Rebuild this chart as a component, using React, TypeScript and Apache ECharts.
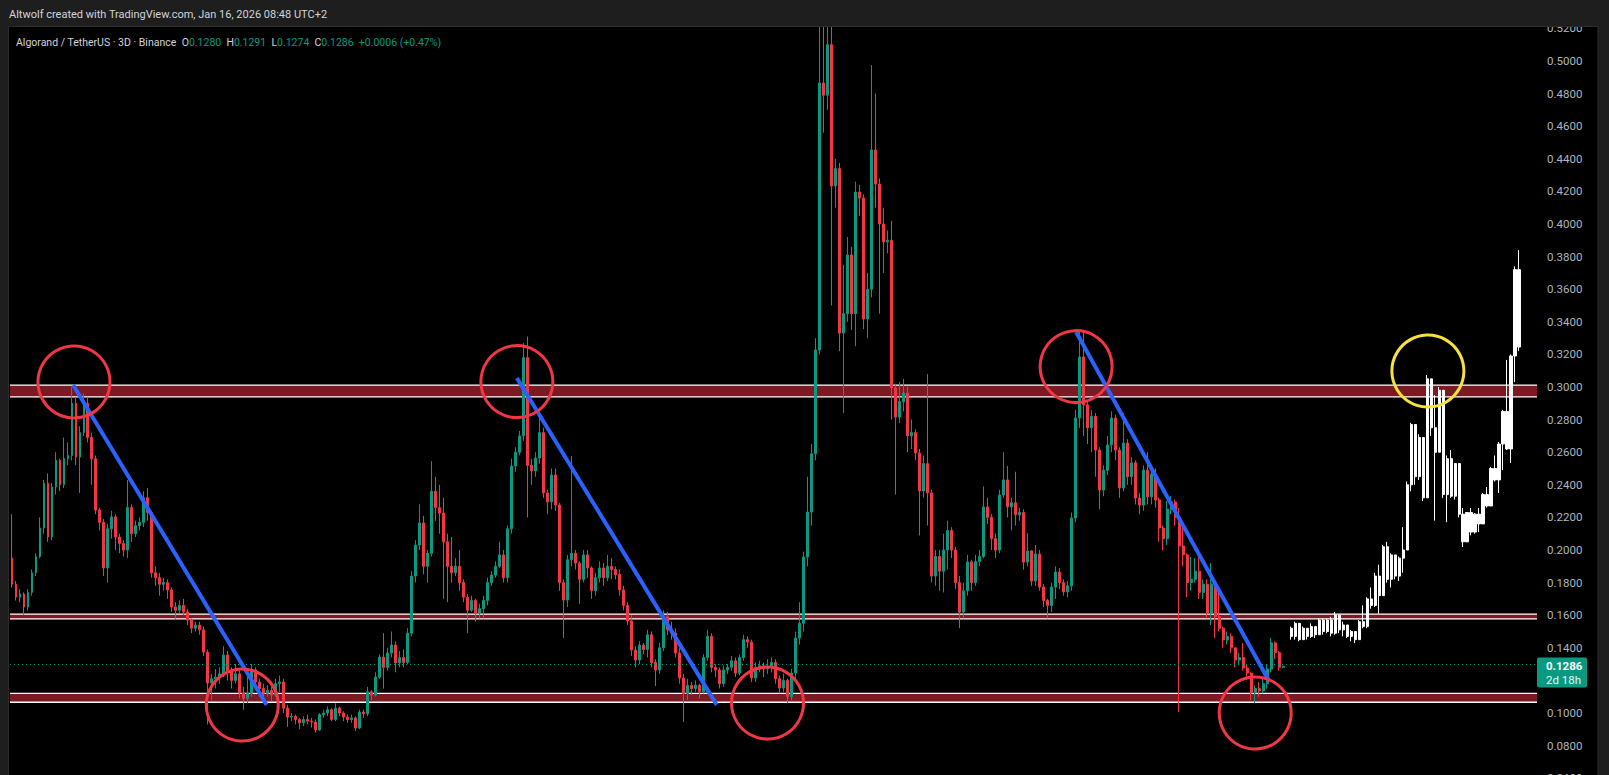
import React, { useEffect, useRef } from "react";
import * as echarts from "echarts";

// ---------- price scale (right axis) ----------
const PRICE_MIN = 0.06;
const PRICE_MAX = 0.52;
const PRICE_STEP = 0.02;

// ---------- time slots (3D candles) ----------
const SLOT_COUNT = 382;
const PROJ_START = 320;

// ---------- real ALGO/USDT 3D candles (open = previous close) ----------
const FIRST_OPEN = 0.195;
const realClose = [
  0.179, 0.171, 0.173, 0.165, 0.174, 0.186, 0.196, 0.2135, 0.241, 0.208,
  0.2387, 0.255, 0.24, 0.256, 0.258, 0.29, 0.257, 0.272, 0.29, 0.269,
  0.256, 0.2245, 0.217, 0.189, 0.213, 0.2203, 0.208, 0.204, 0.2, 0.226,
  0.21, 0.215, 0.217, 0.232, 0.223, 0.186, 0.183, 0.179, 0.18, 0.1755,
  0.165, 0.163, 0.166, 0.162, 0.157, 0.152, 0.154, 0.151, 0.1374, 0.1184,
  0.121, 0.122, 0.124, 0.1356, 0.126, 0.12, 0.124, 0.1123, 0.109, 0.112,
  0.1264, 0.119, 0.115, 0.112, 0.114, 0.111, 0.118, 0.119, 0.103, 0.0975,
  0.098, 0.096, 0.094, 0.096, 0.095, 0.0945, 0.0896, 0.099, 0.1, 0.102,
  0.096, 0.103, 0.1, 0.0975, 0.096, 0.097, 0.0908, 0.1006, 0.0995, 0.113,
  0.111, 0.122, 0.1343, 0.128, 0.1368, 0.1417, 0.1307, 0.134, 0.131, 0.149,
  0.184, 0.203, 0.2166, 0.19, 0.198, 0.236, 0.226, 0.2227, 0.205, 0.19,
  0.186, 0.19, 0.18, 0.171, 0.163, 0.169, 0.1613, 0.164, 0.169, 0.18,
  0.1846, 0.19, 0.197, 0.183, 0.213, 0.2515, 0.26, 0.27, 0.318, 0.252,
  0.2485, 0.2564, 0.272, 0.235, 0.2295, 0.246, 0.2276, 0.18, 0.1693, 0.194,
  0.198, 0.192, 0.182, 0.197, 0.189, 0.175, 0.183, 0.189, 0.183, 0.19,
  0.188, 0.185, 0.1755, 0.166, 0.1565, 0.1387, 0.1325, 0.1417, 0.139, 0.148,
  0.131, 0.1264, 0.14, 0.159, 0.151, 0.149, 0.1368, 0.1215, 0.112, 0.117,
  0.115, 0.117, 0.113, 0.134, 0.147, 0.128, 0.1264, 0.118, 0.1264, 0.128,
  0.132, 0.1245, 0.134, 0.145, 0.1435, 0.1215, 0.128, 0.129, 0.127, 0.128,
  0.131, 0.121, 0.1153, 0.12, 0.11, 0.1245, 0.146, 0.155, 0.1957, 0.2233,
  0.259, 0.3227, 0.4865, 0.479, 0.51, 0.4233, 0.434, 0.3331, 0.345, 0.381,
  0.345, 0.4196, 0.416, 0.3417, 0.36, 0.4454, 0.4245, 0.4, 0.389, 0.39,
  0.2994, 0.2816, 0.291, 0.2963, 0.27, 0.272, 0.2595, 0.2362, 0.253, 0.235,
  0.184, 0.196, 0.187, 0.2, 0.212, 0.2, 0.18, 0.162, 0.175, 0.1927,
  0.18, 0.193, 0.196, 0.2264, 0.22, 0.207, 0.2, 0.2337, 0.243, 0.2264,
  0.229, 0.2215, 0.223, 0.1926, 0.1994, 0.181, 0.1975, 0.1773, 0.169, 0.166,
  0.1773, 0.1865, 0.18, 0.1743, 0.178, 0.2196, 0.281, 0.3184, 0.289, 0.275,
  0.282, 0.2613, 0.2368, 0.249, 0.2644, 0.281, 0.2613, 0.238, 0.2656, 0.245,
  0.2535, 0.2319, 0.2276, 0.249, 0.2326, 0.2465, 0.2307, 0.2135, 0.207, 0.225,
  0.2295, 0.22, 0.2025, 0.197, 0.18, 0.182, 0.187, 0.174, 0.179, 0.1613,
  0.179, 0.159, 0.152, 0.1448, 0.147, 0.14, 0.1325, 0.134, 0.1276, 0.1245,
  0.1123, 0.115, 0.1135, 0.118, 0.127, 0.143, 0.137, 0.128, 0.1286,
];
const realHigh = [
  0.222, 0.181, 0.176, 0.174, 0.176, 0.188, 0.198, 0.22, 0.243, 0.247,
  0.241, 0.26, 0.256, 0.269, 0.266, 0.3, 0.294, 0.276, 0.296, 0.294,
  0.272, 0.258, 0.226, 0.219, 0.216, 0.224, 0.222, 0.21, 0.206, 0.243,
  0.228, 0.218, 0.22, 0.236, 0.238, 0.224, 0.19, 0.186, 0.183, 0.182,
  0.177, 0.168, 0.169, 0.17, 0.164, 0.158, 0.156, 0.156, 0.153, 0.139,
  0.124, 0.127, 0.128, 0.141, 0.138, 0.128, 0.13, 0.126, 0.116, 0.125,
  0.13, 0.128, 0.121, 0.118, 0.117, 0.116, 0.121, 0.123, 0.121, 0.105,
  0.1, 0.099, 0.097, 0.098, 0.099, 0.097, 0.096, 0.1, 0.102, 0.104,
  0.103, 0.106, 0.104, 0.101, 0.099, 0.099, 0.098, 0.102, 0.102, 0.116,
  0.114, 0.125, 0.136, 0.149, 0.14, 0.15, 0.144, 0.138, 0.139, 0.152,
  0.187, 0.206, 0.228, 0.221, 0.2, 0.2545, 0.245, 0.24, 0.232, 0.21,
  0.208, 0.195, 0.2, 0.182, 0.173, 0.172, 0.17, 0.167, 0.172, 0.183,
  0.187, 0.193, 0.205, 0.2, 0.215, 0.256, 0.263, 0.273, 0.327, 0.331,
  0.256, 0.26, 0.285, 0.275, 0.237, 0.25, 0.25, 0.229, 0.182, 0.197,
  0.2577, 0.2, 0.193, 0.2, 0.2, 0.19, 0.186, 0.193, 0.192, 0.197,
  0.195, 0.19, 0.188, 0.178, 0.168, 0.16, 0.141, 0.144, 0.143, 0.151,
  0.15, 0.133, 0.143, 0.163, 0.162, 0.156, 0.152, 0.14, 0.124, 0.121,
  0.119, 0.12, 0.118, 0.136, 0.151, 0.149, 0.13, 0.128, 0.129, 0.13,
  0.135, 0.134, 0.136, 0.148, 0.147, 0.145, 0.131, 0.132, 0.131, 0.133,
  0.134, 0.133, 0.123, 0.124, 0.121, 0.127, 0.15, 0.168, 0.199, 0.245,
  0.265, 0.33, 0.53, 0.53, 0.53, 0.53, 0.44, 0.4374, 0.375, 0.392,
  0.386, 0.426, 0.424, 0.418, 0.37, 0.4975, 0.48, 0.428, 0.41, 0.396,
  0.402, 0.302, 0.303, 0.305, 0.3, 0.28, 0.274, 0.262, 0.258, 0.308,
  0.237, 0.2, 0.2, 0.21, 0.218, 0.214, 0.202, 0.184, 0.18, 0.197,
  0.194, 0.197, 0.2, 0.239, 0.232, 0.222, 0.21, 0.237, 0.26, 0.2515,
  0.232, 0.248, 0.226, 0.225, 0.2104, 0.2, 0.203, 0.2, 0.179, 0.17,
  0.18, 0.19, 0.189, 0.182, 0.181, 0.223, 0.286, 0.3337, 0.335, 0.292,
  0.286, 0.284, 0.263, 0.252, 0.27, 0.285, 0.283, 0.263, 0.284, 0.268,
  0.257, 0.255, 0.235, 0.252, 0.26, 0.25, 0.25, 0.232, 0.215, 0.23,
  0.233, 0.231, 0.2258, 0.2153, 0.198, 0.1957, 0.195, 0.2, 0.182, 0.182,
  0.192, 0.18, 0.175, 0.153, 0.15, 0.149, 0.14, 0.137, 0.143, 0.13,
  0.125, 0.117, 0.119, 0.122, 0.13, 0.146, 0.144, 0.138, 0.1291,
];
const realLow = [
  0.177, 0.169, 0.168, 0.16, 0.163, 0.172, 0.184, 0.195, 0.21, 0.205,
  0.206, 0.234, 0.236, 0.238, 0.252, 0.255, 0.252, 0.235, 0.27, 0.266,
  0.24, 0.222, 0.212, 0.184, 0.18, 0.207, 0.2, 0.198, 0.196, 0.195,
  0.205, 0.208, 0.212, 0.214, 0.218, 0.183, 0.178, 0.172, 0.175, 0.17,
  0.162, 0.157, 0.161, 0.16, 0.154, 0.149, 0.15, 0.148, 0.135, 0.093,
  0.108, 0.115, 0.118, 0.122, 0.12, 0.115, 0.118, 0.109, 0.102, 0.106,
  0.11, 0.114, 0.11, 0.108, 0.11, 0.107, 0.11, 0.113, 0.1, 0.0915,
  0.095, 0.093, 0.09, 0.092, 0.093, 0.091, 0.088, 0.089, 0.097, 0.098,
  0.095, 0.095, 0.098, 0.095, 0.094, 0.094, 0.089, 0.09, 0.097, 0.098,
  0.108, 0.11, 0.121, 0.115, 0.126, 0.134, 0.125, 0.128, 0.128, 0.13,
  0.147, 0.18, 0.2, 0.185, 0.18, 0.196, 0.218, 0.21, 0.17, 0.168,
  0.18, 0.184, 0.175, 0.168, 0.149, 0.162, 0.156, 0.158, 0.158, 0.166,
  0.178, 0.183, 0.189, 0.18, 0.18, 0.21, 0.248, 0.258, 0.267, 0.22,
  0.24, 0.245, 0.253, 0.232, 0.222, 0.225, 0.224, 0.175, 0.146, 0.165,
  0.19, 0.188, 0.167, 0.18, 0.183, 0.17, 0.172, 0.18, 0.178, 0.181,
  0.182, 0.182, 0.172, 0.163, 0.154, 0.135, 0.128, 0.13, 0.136, 0.134,
  0.128, 0.1165, 0.124, 0.138, 0.148, 0.145, 0.134, 0.118, 0.0945, 0.108,
  0.111, 0.113, 0.109, 0.112, 0.132, 0.125, 0.122, 0.115, 0.116, 0.124,
  0.126, 0.122, 0.123, 0.132, 0.14, 0.119, 0.119, 0.125, 0.122, 0.124,
  0.125, 0.118, 0.112, 0.113, 0.106, 0.108, 0.12, 0.142, 0.15, 0.19,
  0.215, 0.255, 0.32, 0.456, 0.47, 0.35, 0.41, 0.322, 0.284, 0.34,
  0.335, 0.325, 0.405, 0.3355, 0.33, 0.355, 0.41, 0.345, 0.37, 0.382,
  0.28, 0.234, 0.278, 0.285, 0.26, 0.262, 0.255, 0.209, 0.232, 0.215,
  0.18, 0.178, 0.175, 0.174, 0.188, 0.195, 0.176, 0.152, 0.158, 0.172,
  0.175, 0.178, 0.19, 0.195, 0.216, 0.2, 0.195, 0.198, 0.232, 0.22,
  0.212, 0.215, 0.218, 0.188, 0.19, 0.178, 0.178, 0.175, 0.165, 0.158,
  0.162, 0.17, 0.176, 0.172, 0.171, 0.175, 0.217, 0.275, 0.27, 0.265,
  0.26, 0.245, 0.225, 0.233, 0.246, 0.26, 0.255, 0.232, 0.236, 0.24,
  0.24, 0.228, 0.222, 0.224, 0.228, 0.228, 0.226, 0.205, 0.2, 0.203,
  0.222, 0.215, 0.1006, 0.19, 0.171, 0.175, 0.18, 0.17, 0.17, 0.158,
  0.154, 0.146, 0.15, 0.14, 0.142, 0.137, 0.128, 0.13, 0.126, 0.12,
  0.108, 0.106, 0.11, 0.112, 0.115, 0.125, 0.133, 0.126, 0.1274,
];

// ---------- projected (white) bar pattern ----------
const PROJ_FIRST_OPEN = 0.152;
const projClose = [
  0.147, 0.155, 0.145, 0.152, 0.147, 0.153, 0.148, 0.157, 0.15, 0.157,
  0.149, 0.16, 0.151, 0.154, 0.147, 0.15, 0.145, 0.156, 0.153, 0.17,
  0.166, 0.184, 0.172, 0.202, 0.182, 0.197, 0.184, 0.195, 0.2, 0.24,
  0.277, 0.245, 0.269, 0.232, 0.305, 0.275, 0.26, 0.298, 0.234, 0.256,
  0.233, 0.253, 0.222, 0.205, 0.223, 0.211, 0.222, 0.216, 0.234, 0.227,
  0.25, 0.243, 0.265, 0.285, 0.262, 0.319, 0.372, 0.3245,
];
const projHigh = [
  0.153, 0.156, 0.152, 0.153, 0.152, 0.155, 0.153, 0.158, 0.158, 0.158,
  0.159, 0.162, 0.16, 0.156, 0.154, 0.151, 0.15, 0.157, 0.166, 0.171,
  0.177, 0.186, 0.191, 0.203, 0.205, 0.198, 0.197, 0.196, 0.214, 0.242,
  0.278, 0.27, 0.271, 0.262, 0.3074, 0.3, 0.295, 0.3, 0.263, 0.258,
  0.2613, 0.2534, 0.2325, 0.2258, 0.2233, 0.2258, 0.2227, 0.2258, 0.235, 0.2386,
  0.251, 0.258, 0.2663, 0.286, 0.3166, 0.32, 0.374, 0.384,
];
const projLow = [
  0.145, 0.145, 0.144, 0.145, 0.145, 0.146, 0.146, 0.148, 0.148, 0.149,
  0.147, 0.148, 0.149, 0.147, 0.146, 0.144, 0.143, 0.145, 0.152, 0.152,
  0.164, 0.165, 0.161, 0.172, 0.18, 0.177, 0.182, 0.181, 0.186, 0.2,
  0.236, 0.24, 0.243, 0.23, 0.248, 0.27, 0.218, 0.26, 0.232, 0.217,
  0.232, 0.231, 0.22, 0.2018, 0.212, 0.209, 0.21, 0.211, 0.222, 0.226,
  0.237, 0.242, 0.235, 0.249, 0.2613, 0.2534, 0.303, 0.322,
];

// ---------- annotations ----------
// [slot, lower price, upper price]
const zones = [
  [0, 0.2939, 0.3012],
  [0, 0.1577, 0.1607],
  [0, 0.1066, 0.1121],
];
// [slotFrom, priceFrom, slotTo, priceTo]
const trendLines = [
  [15.3, 0.3012, 63.7, 0.105],
  [126.3, 0.3055, 176.3, 0.105],
  [266.2, 0.3337, 314.5, 0.1195],
];
// [slot, price]
const redCircles = [
  [15.5, 0.3031],
  [57.6, 0.1049],
  [126.3, 0.3033],
  [189, 0.1061],
  [266.2, 0.3125],
  [311, 0.1],
];
const yellowCircles = [[354.2, 0.3098]];

const LAST = { open: "0.1280", high: "0.1291", low: "0.1274", close: "0.1286", change: "+0.0006 (+0.47%)" };
const LAST_PRICE = 0.1286;
const COUNTDOWN = "2d 18h";
const HEADER = "Altwolf created with TradingView.com, Jan 16, 2026 08:48 UTC+2";
const SYMBOL = "Algorand / TetherUS · 3D · Binance";

const UP = "#089981";
const DOWN = "#f23645";
const FONT = "Roboto, 'Noto Sans', sans-serif";

export default function App() {
  const ref = useRef<HTMLDivElement>(null);

  useEffect(() => {
    if (!ref.current) return;
    const chart = echarts.init(ref.current, null, { renderer: "svg" });

    const cats = Array.from({ length: SLOT_COUNT }, (_, i) => String(i));
    const empty = ["-", "-", "-", "-"];

    const realCandles: any[] = [];
    let prev = FIRST_OPEN;
    realClose.forEach((c, i) => {
      realCandles.push([prev, c, realLow[i], realHigh[i]]);
      prev = c;
    });
    while (realCandles.length < SLOT_COUNT) realCandles.push(empty);

    const projCandles: any[] = [];
    while (projCandles.length < PROJ_START) projCandles.push(empty);
    prev = PROJ_FIRST_OPEN;
    projClose.forEach((c, i) => {
      projCandles.push([prev, c, projLow[i], projHigh[i]]);
      prev = c;
    });
    while (projCandles.length < SLOT_COUNT) projCandles.push(empty);

    const circleSeries = (data: number[][], color: string, name: string) => ({
      type: "custom",
      name,
      xAxisIndex: 1,
      yAxisIndex: 0,
      z: 6,
      silent: true,
      data,
      renderItem: (_p: any, api: any) => {
        const pt = api.coord([api.value(0), api.value(1)]);
        return {
          type: "circle",
          shape: { cx: pt[0], cy: pt[1], r: 36 },
          style: { fill: "none", stroke: color, lineWidth: 3 },
        };
      },
    });

    const zoneSeries = {
      type: "custom",
      name: "zones",
      xAxisIndex: 1,
      yAxisIndex: 0,
      z: 1,
      silent: true,
      encode: { x: 0, y: [1, 2] },
      data: zones,
      renderItem: (params: any, api: any) => {
        const cs = params.coordSys;
        const top = api.coord([0, api.value(2)])[1];
        const bot = api.coord([0, api.value(1)])[1];
        const x1 = cs.x;
        const x2 = cs.x + cs.width;
        return {
          type: "group",
          children: [
            { type: "rect", shape: { x: x1, y: top, width: cs.width, height: bot - top }, style: { fill: "#7b1a22" } },
            { type: "line", shape: { x1, y1: top, x2, y2: top }, style: { stroke: "#ffffff", lineWidth: 1.3 } },
            { type: "line", shape: { x1, y1: bot, x2, y2: bot }, style: { stroke: "#ffffff", lineWidth: 1.3 } },
          ],
        };
      },
    };

    const option: any = {
      animation: false,
      backgroundColor: "#000000",
      grid: { left: 10, right: 72, top: 28.4, bottom: 1.8, outerBoundsMode: "none" },
      xAxis: [
        { type: "category", data: cats, boundaryGap: true, show: false },
        { type: "value", min: -0.5, max: SLOT_COUNT - 0.5, show: false },
      ],
      yAxis: {
        type: "value",
        position: "right",
        min: PRICE_MIN,
        max: PRICE_MAX,
        interval: PRICE_STEP,
        splitLine: { show: false },
        axisLine: { show: false },
        axisTick: { show: false },
        axisLabel: {
          show: true,
          showMinLabel: true,
          showMaxLabel: true,
          margin: 10,
          color: "#b2b5be",
          fontSize: 11.5,
          fontFamily: FONT,
          formatter: (v: number) => v.toFixed(4),
        },
      },
      series: [
        zoneSeries,
        {
          type: "candlestick",
          name: "ALGOUSDT",
          z: 3,
          barWidth: 2.4,
          data: realCandles,
          itemStyle: { color: UP, color0: DOWN, borderColor: UP, borderColor0: DOWN, borderWidth: 1 },
          markLine: {
            silent: true,
            symbol: ["none", "none"],
            label: { show: false },
            lineStyle: { color: UP, type: [1, 3], width: 1 },
            data: [{ yAxis: LAST_PRICE }],
          },
        },
        {
          type: "candlestick",
          name: "projection",
          z: 3,
          barWidth: 2.6,
          data: projCandles,
          itemStyle: {
            color: "#ffffff",
            color0: "#ffffff",
            borderColor: "#ffffff",
            borderColor0: "#ffffff",
            borderWidth: 1,
          },
        },
        ...trendLines.map((t, i) => ({
          type: "line",
          name: "trend" + i,
          xAxisIndex: 1,
          yAxisIndex: 0,
          z: 5,
          silent: true,
          symbol: "none",
          lineStyle: { color: "#2962ff", width: 4 },
          data: [
            [t[0], t[1]],
            [t[2], t[3]],
          ],
        })),
        circleSeries(redCircles, "#f23645", "redCircles"),
        circleSeries(yellowCircles, "#f7e23a", "yellowCircles"),
      ],
    };
    chart.setOption(option);

    const py = chart.convertToPixel({ yAxisIndex: 0 }, LAST_PRICE) as number;
    const legendText =
      "{a|" + SYMBOL + "}  {l|O}{v|" + LAST.open + "}  {l|H}{v|" + LAST.high + "}  {l|L}{v|" +
      LAST.low + "}  {l|C}{v|" + LAST.close + "}  {v|" + LAST.change + "}";
    const LF = "10.5px " + FONT;
    chart.setOption({
      graphic: [
        { type: "rect", z: 100, shape: { x: 0, y: 0, width: 1609, height: 27 }, style: { fill: "#1e1e1e" } },
        { type: "rect", z: 100, shape: { x: 0, y: 0, width: 8.5, height: 780 }, style: { fill: "#1e1e1e" } },
        { type: "rect", z: 100, shape: { x: 1598, y: 0, width: 11, height: 780 }, style: { fill: "#1e1e1e" } },
        {
          type: "rect",
          z: 100,
          shape: { x: 8.5, y: 26.5, width: 1589.5, height: 760 },
          style: { fill: "none", stroke: "#2c2c2c", lineWidth: 1 },
        },
        {
          type: "text",
          z: 101,
          style: {
            x: 9,
            y: 14,
            text: HEADER,
            fill: "#d1d4dc",
            font: "11px " + FONT,
            verticalAlign: "middle",
          },
        },
        {
          type: "text",
          z: 101,
          style: {
            x: 16,
            y: 42.5,
            text: legendText,
            verticalAlign: "middle",
            font: LF,
            rich: {
              a: { fill: "#d1d4dc", font: LF },
              l: { fill: "#d1d4dc", font: LF },
              v: { fill: UP, font: LF },
            },
          },
        },
        {
          type: "rect",
          z: 101,
          shape: { x: 1537, y: py - 9, width: 50, height: 30, r: 2 },
          style: { fill: UP },
        },
        {
          type: "text",
          z: 102,
          style: {
            x: 1546,
            y: py,
            text: LAST.close,
            fill: "#ffffff",
            font: "bold 11.5px " + FONT,
            verticalAlign: "middle",
          },
        },
        {
          type: "text",
          z: 102,
          style: {
            x: 1546,
            y: py + 14,
            text: COUNTDOWN,
            fill: "#e8f5f2",
            font: "11.5px " + FONT,
            verticalAlign: "middle",
          },
        },
      ],
    });

    return () => chart.dispose();
  }, []);

  return (
    <div style={{ position: "fixed", left: 0, top: 0, width: 1609, height: 775, overflow: "hidden", background: "#000" }}>
      <div ref={ref} style={{ width: 1609, height: 780 }} />
    </div>
  );
}
